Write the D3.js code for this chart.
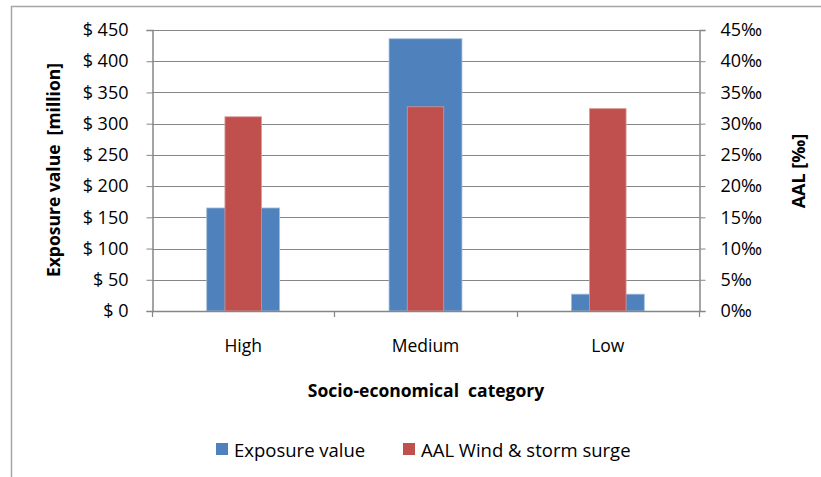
<!DOCTYPE html>
<html>
<head>
<meta charset="utf-8">
<script src="https://cdn.jsdelivr.net/npm/d3@7"></script>
<style>
  html, body { margin: 0; padding: 0; background: #fff; }
  svg { display: block; }
  text { font-family: "Open Sans", Carlito, Calibri, sans-serif; fill: #000; white-space: pre; }
</style>
</head>
<body>
<svg id="chart" width="821" height="477"></svg>
<script>
// Data
const categories = ["High", "Medium", "Low"];
const exposureValues = [165, 436, 27];          // $ million
const aalValues = [31.1, 32.7, 32.4];           // per mille
const leftTicks = [0, 50, 100, 150, 200, 250, 300, 350, 400, 450];
const rightTicks = [0, 5, 10, 15, 20, 25, 30, 35, 40, 45];
const seriesNames = ["Exposure value", "AAL Wind & storm surge"];
const seriesColors = ["#4f81bd", "#c0504d"];

const svg = d3.select("#chart");
const W = 821, H = 477;
const plot = { left: 152, right: 699, top: 30, bottom: 311 };
const FONT = '"Open Sans", Carlito, Calibri, sans-serif';

// Outer chart frame (clipped at right and bottom)
svg.append("path")
  .attr("d", `M11.5,${H} V6.5 H${W}`)
  .attr("fill", "none")
  .attr("stroke", "#a6a6a6")
  .attr("stroke-width", 1.5);

const x = d3.scaleBand().domain(categories).range([plot.left, plot.right]).padding(0);
const yL = d3.scaleLinear().domain([0, 450]).range([plot.bottom, plot.top]);
const yR = d3.scaleLinear().domain([0, 45]).range([plot.bottom, plot.top]);

// Gridlines
svg.append("g").selectAll("line")
  .data(leftTicks.filter(d => d > 0))
  .join("line")
  .attr("x1", plot.left).attr("x2", plot.right)
  .attr("y1", d => Math.round(yL(d)) + 0.5).attr("y2", d => Math.round(yL(d)) + 0.5)
  .attr("stroke", "#868686").attr("stroke-width", 1);

// Bars: exposure (primary axis, wide) then AAL (secondary axis, narrow)
const bw = x.bandwidth();
svg.append("g").selectAll("rect")
  .data(exposureValues)
  .join("rect")
  .attr("x", (d, i) => x(categories[i]) + bw * 0.3)
  .attr("width", bw * 0.4)
  .attr("y", d => yL(d))
  .attr("height", d => yL(0) - yL(d))
  .attr("fill", seriesColors[0])
  .attr("stroke", "#a7c0de").attr("stroke-width", 0.8);

svg.append("g").selectAll("rect")
  .data(aalValues)
  .join("rect")
  .attr("x", (d, i) => x(categories[i]) + bw * 0.4)
  .attr("width", bw * 0.2)
  .attr("y", d => yR(d))
  .attr("height", d => yR(0) - yR(d))
  .attr("fill", seriesColors[1])
  .attr("stroke", "#d99794").attr("stroke-width", 0.8);

// Left axis
const axL = svg.append("g")
  .attr("transform", `translate(${plot.left + 0.5},0)`)
  .call(d3.axisLeft(yL).tickValues(leftTicks).tickSize(6).tickPadding(18)
    .tickFormat(d => "$ " + d));
// Right axis
const axR = svg.append("g")
  .attr("transform", `translate(${plot.right + 0.5},0)`)
  .call(d3.axisRight(yR).tickValues(rightTicks).tickSize(6).tickPadding(15)
    .tickFormat(d => d + "‰"));

[axL, axR].forEach(g => {
  g.select(".domain").attr("stroke", "#868686").attr("stroke-width", 1.5);
  g.selectAll(".tick line").attr("stroke", "#868686");
  g.selectAll(".tick text").attr("font-size", 18).attr("fill", "#000")
    .style("font-family", FONT);
});

// Category axis
const boundaries = categories.map(c => x(c)).concat([plot.right]);
svg.append("line")
  .attr("x1", plot.left).attr("x2", plot.right)
  .attr("y1", plot.bottom + 0.5).attr("y2", plot.bottom + 0.5)
  .attr("stroke", "#868686").attr("stroke-width", 1.5);
svg.append("g").selectAll("line")
  .data(boundaries)
  .join("line")
  .attr("x1", d => Math.round(d) + 0.5).attr("x2", d => Math.round(d) + 0.5)
  .attr("y1", plot.bottom).attr("y2", plot.bottom + 6)
  .attr("stroke", "#868686").attr("stroke-width", 1.2);

svg.append("g").selectAll("text")
  .data(categories)
  .join("text")
  .attr("x", d => x(d) + bw / 2)
  .attr("y", 352)
  .attr("text-anchor", "middle")
  .attr("font-size", 17.5)
  .text(d => d);

// Axis titles
svg.append("text")
  .attr("x", 426).attr("y", 397)
  .attr("text-anchor", "middle")
  .attr("font-size", 17.5).attr("font-weight", "bold")
  .text("Socio-economical  category");

svg.append("text")
  .attr("transform", "translate(60,170) rotate(-90)")
  .attr("text-anchor", "middle")
  .attr("font-size", 17.5).attr("font-weight", "bold")
  .text("Exposure value  [million]");

svg.append("text")
  .attr("transform", "translate(805,171) rotate(-90)")
  .attr("text-anchor", "middle")
  .attr("font-size", 18).attr("font-weight", "bold")
  .text("AAL [‰]");

// Legend
const legendItems = [
  { name: seriesNames[0], color: seriesColors[0], x: 216 },
  { name: seriesNames[1], color: seriesColors[1], x: 403 }
];
const lg = svg.append("g").selectAll("g").data(legendItems).join("g")
  .attr("transform", d => `translate(${d.x},0)`);
lg.append("rect").attr("x", 0).attr("y", 443).attr("width", 12).attr("height", 12)
  .attr("fill", d => d.color);
lg.append("text").attr("x", 18).attr("y", 456.5)
  .attr("font-size", 18.5).text(d => d.name);
</script>
</body>
</html>
